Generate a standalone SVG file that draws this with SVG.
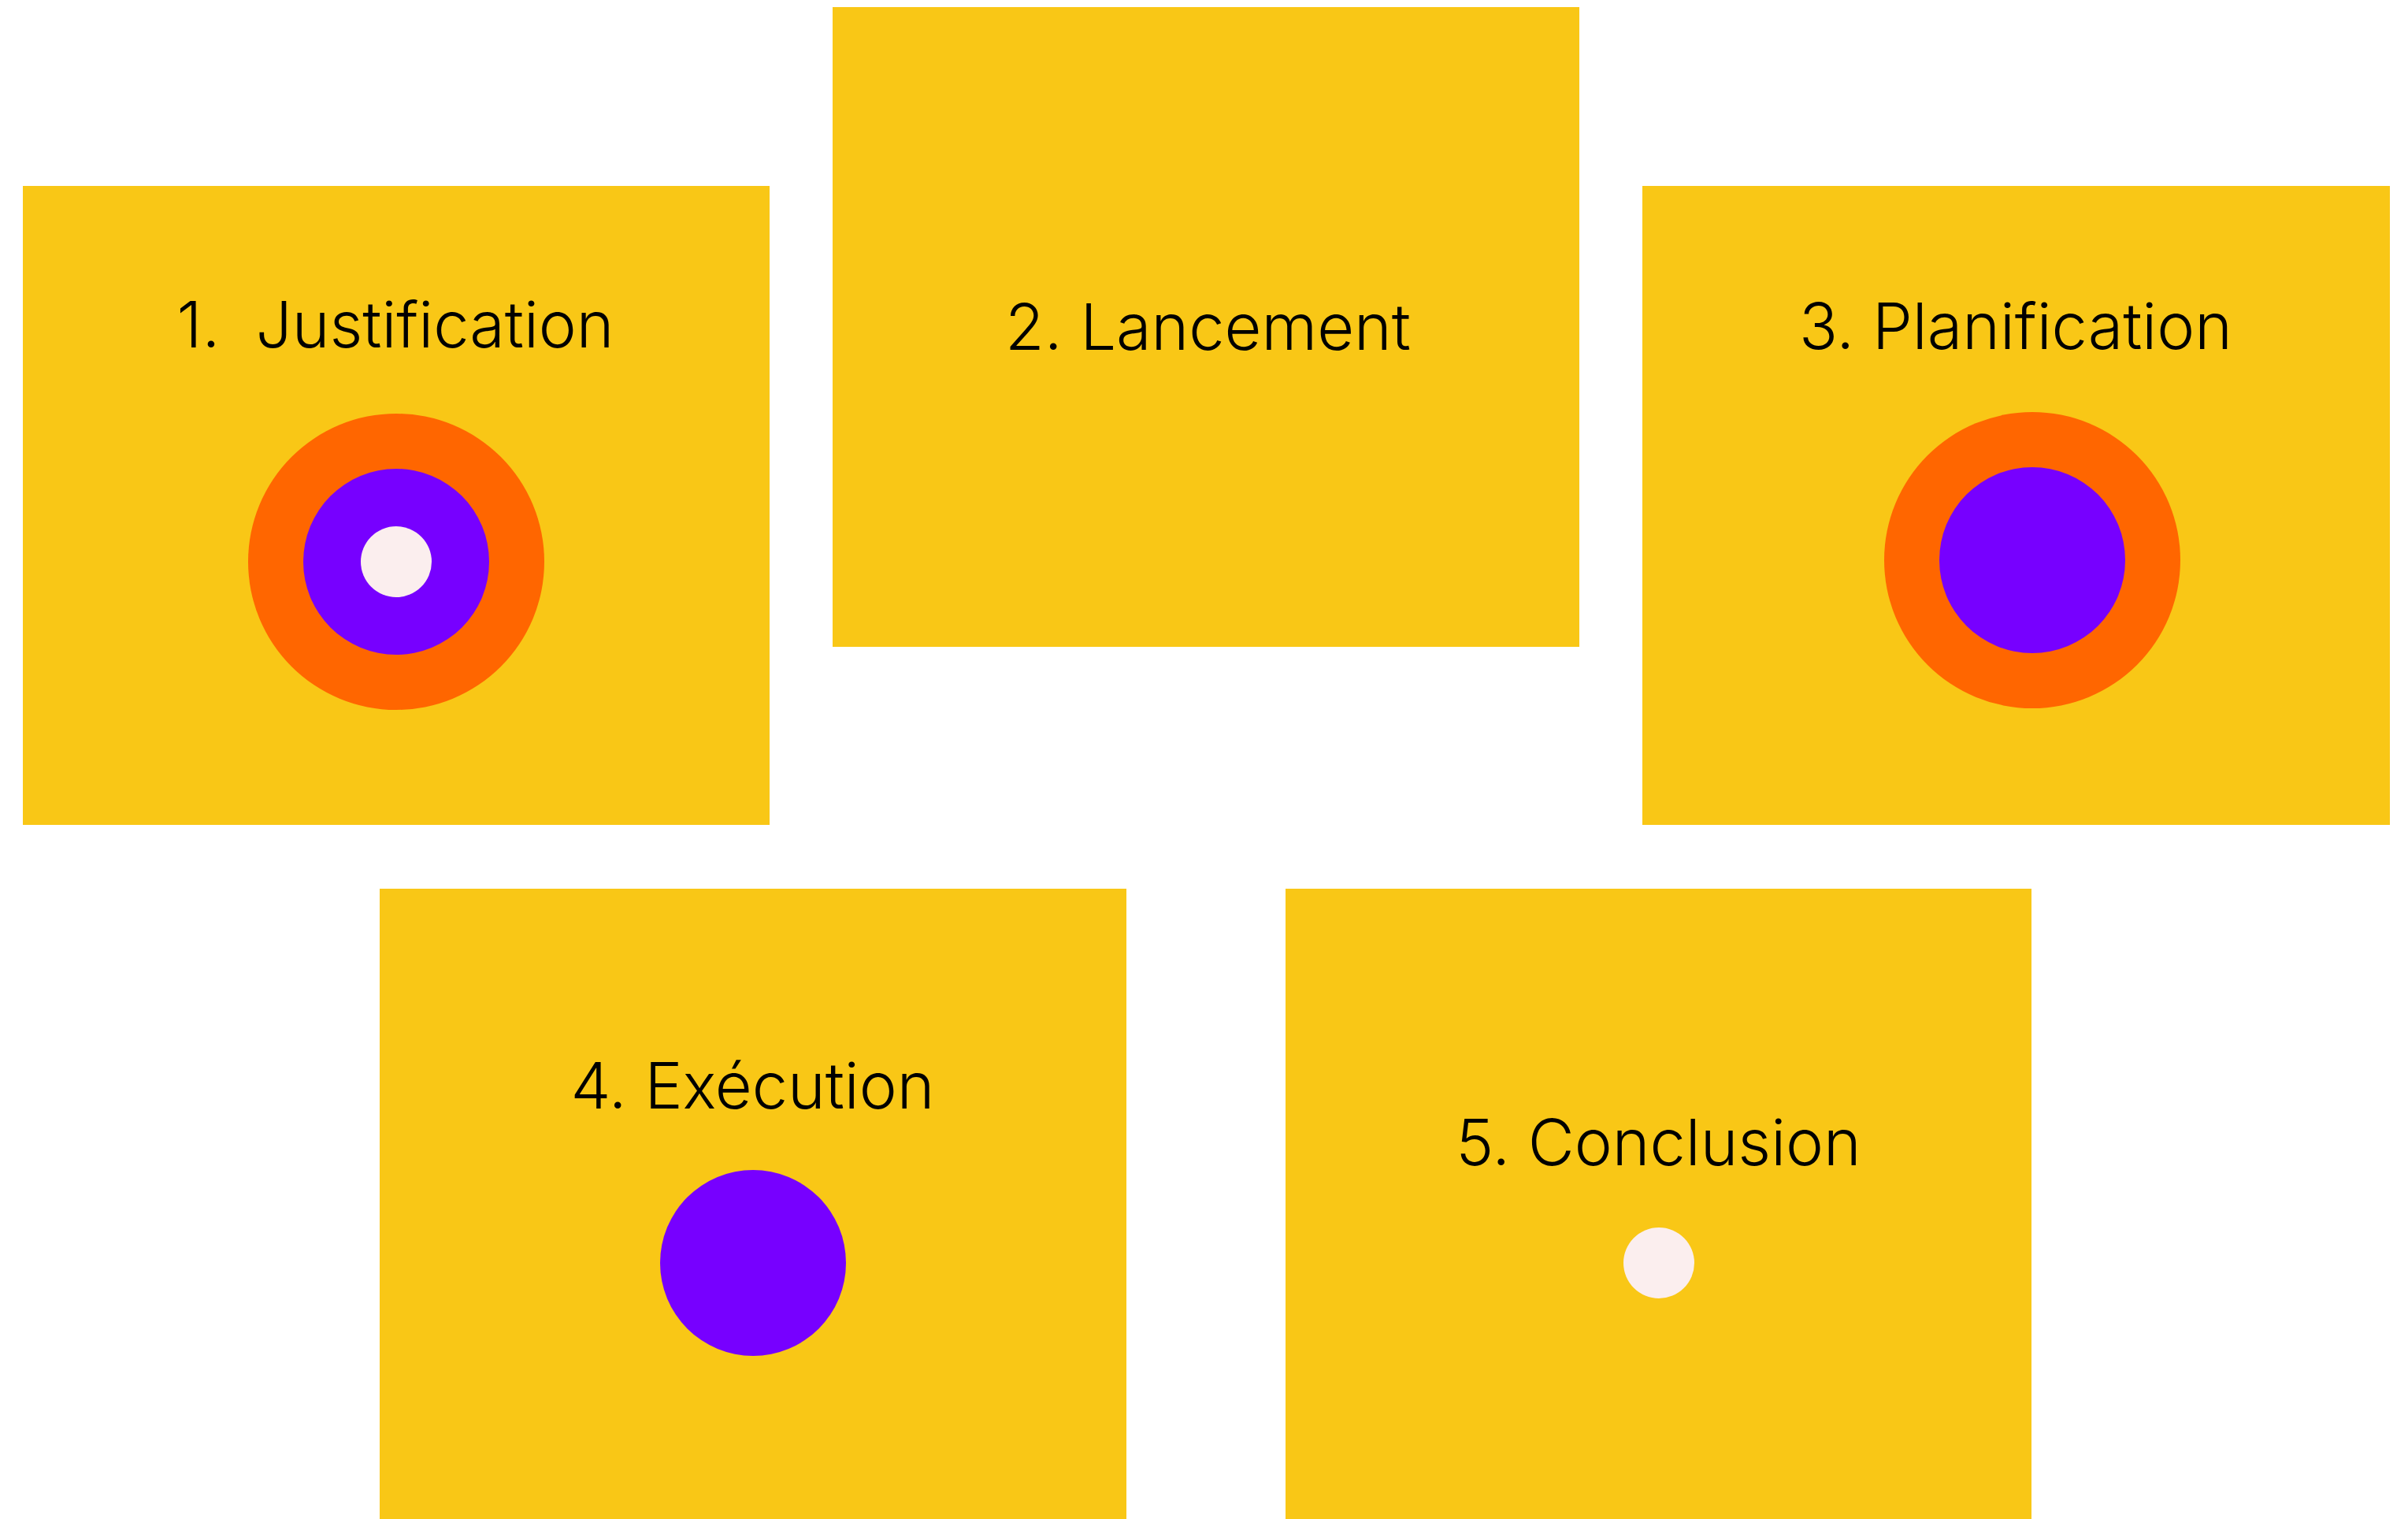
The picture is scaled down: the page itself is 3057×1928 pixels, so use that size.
<svg xmlns="http://www.w3.org/2000/svg" width="3057" height="1928" viewBox="0 0 3057 1928">
<style>
.box{fill:#F9C716}
.lbl{font-family:Inter,"Liberation Sans",sans-serif;font-weight:350;font-size:81px;fill:#000;text-anchor:middle;white-space:pre}
.or{fill:#FF6600}
.pu{fill:#7700FF}
.wh{fill:#FBEEEE}
</style>
<rect width="3057" height="1928" fill="#fff"/>
<g id="node1">
<rect class="box" x="29" y="236" width="948" height="811"/>
<text class="lbl" x="502" y="441" xml:space="preserve">1.  Justification</text>
<circle class="or" cx="503" cy="713" r="188"/>
<circle class="pu" cx="503" cy="713" r="118"/>
<circle class="wh" cx="503" cy="713" r="45"/>
</g>
<g id="node2">
<rect class="box" x="1057" y="9" width="948" height="812"/>
<text class="lbl" x="1533.5" y="444">2. Lancement</text>
</g>
<g id="node3">
<rect class="box" x="2085" y="236" width="949" height="811"/>
<text class="lbl" x="2559" y="443">3. Planification</text>
<circle class="or" cx="2580" cy="711" r="188"/>
<circle class="pu" cx="2580" cy="711" r="118"/>
</g>
<g id="node4">
<rect class="box" x="482" y="1128" width="948" height="800"/>
<text class="lbl" x="955.5" y="1407">4. Exécution</text>
<circle class="pu" cx="956" cy="1603" r="118"/>
</g>
<g id="node5">
<rect class="box" x="1632" y="1128" width="947" height="800"/>
<text class="lbl" x="2105.5" y="1479">5. Conclusion</text>
<circle class="wh" cx="2106" cy="1603" r="45"/>
</g>
<g id="connectors"/>
</svg>
